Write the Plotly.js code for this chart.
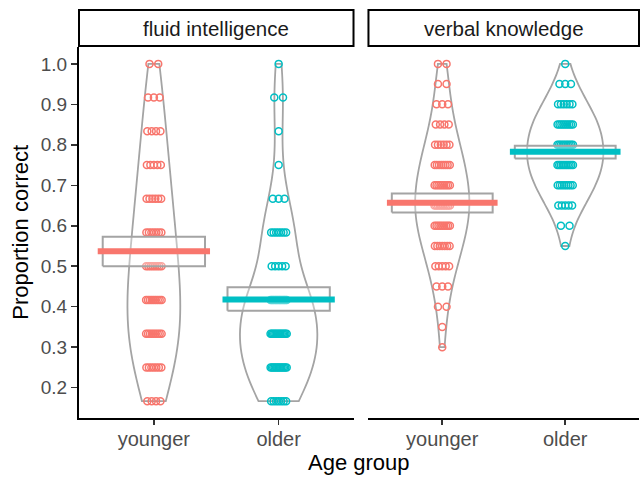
<!DOCTYPE html>
<html><head><meta charset="utf-8">
<script src="https://cdn.plot.ly/plotly-3.0.1.min.js"></script>
<style>html,body{margin:0;padding:0;background:#fff}#chart{width:640px;height:479px}</style>
</head><body><div id="chart"></div>
<script>
// ---- data ----
const panelNames = ['fluid intelligence', 'verbal knowledge'];
const groupNames = ['younger', 'older'];
const groupColors = ['#F8766D', '#00BFC4'];
const yTickVals = [0.2, 0.3, 0.4, 0.5, 0.6, 0.7, 0.8, 0.9, 1.0];

// fluid intelligence: proportion correct levels (k/12) and counts per level
const fluidLevels = [2/12, 3/12, 4/12, 5/12, 6/12, 7/12, 8/12, 9/12, 10/12, 11/12, 12/12];
const fluidYoungerCounts = [4, 7, 9, 9, 8, 7, 6, 5, 4, 3, 2];
const fluidOlderCounts   = [7, 13, 14, 13, 5, 7, 3, 1, 1, 2, 1];

// verbal knowledge: levels in steps of 0.05
const verbalLevels = [0.30, 0.35, 0.40, 0.45, 0.50, 0.55, 0.60, 0.65, 0.70, 0.75, 0.80, 0.85, 0.90, 0.95, 1.00];
const verbalYoungerCounts = [1, 1, 2, 3, 5, 7, 9, 10, 9, 8, 6, 4, 3, 2, 2];
const verbalOlderCounts   = [0, 0, 0, 0, 0, 1, 2, 5, 8, 10, 10, 9, 6, 3, 1];

// means and confidence boxes
const fluidMeans  = [0.537, 0.418];
const fluidCILow  = [0.500, 0.390];
const fluidCIHigh = [0.573, 0.448];
const verbalMeans  = [0.657, 0.783];
const verbalCILow  = [0.633, 0.766];
const verbalCIHigh = [0.680, 0.798];

// ---- helpers ----
function expand(levels, counts) {
  const out = [];
  levels.forEach((v, i) => { for (let k = 0; k < counts[i]; k++) out.push(v); });
  return out;
}
function quantile(sorted, p) {
  const h = (sorted.length - 1) * p, lo = Math.floor(h), hi = Math.ceil(h);
  return sorted[lo] + (sorted[hi] - sorted[lo]) * (h - lo);
}
function bwNrd0(vals) {
  const n = vals.length;
  const m = vals.reduce((a, b) => a + b, 0) / n;
  const sd = Math.sqrt(vals.reduce((a, b) => a + (b - m) * (b - m), 0) / (n - 1));
  const s = vals.slice().sort((a, b) => a - b);
  const iqr = quantile(s, 0.75) - quantile(s, 0.25);
  let lo = Math.min(sd, iqr / 1.34);
  if (!(lo > 0)) lo = sd || 1;
  return 0.9 * lo * Math.pow(n, -0.2);
}
// peak of the Gaussian kernel density inside the data range (for area scaling like ggplot)
function maxKDE(vals, bw) {
  const mn = Math.min(...vals), mx = Math.max(...vals);
  let best = 0;
  for (let i = 0; i <= 200; i++) {
    const y = mn + (mx - mn) * i / 200;
    let s = 0;
    for (const v of vals) { const z = (y - v) / bw; s += Math.exp(-0.5 * z * z); }
    best = Math.max(best, s / (vals.length * bw * Math.sqrt(2 * Math.PI)));
  }
  return best;
}

const JIT = 0.07, VW = 0.62, BOXHW = 0.41, BARHW = 0.45;
const traces = [];

function addPanel(xa, levels, countsList, means, lo, hi) {
  const info = countsList.map(counts => {
    const vals = expand(levels, counts);
    const bw = bwNrd0(vals);
    return { vals, bw, peak: maxKDE(vals, bw) };
  });
  const panelPeak = Math.max(...info.map(d => d.peak));
  countsList.forEach((counts, gi) => {
    const pos = gi + 1;
    const d = info[gi];
    traces.push({
      type: 'violin', x0: pos, y: d.vals, xaxis: xa, yaxis: 'y', orientation: 'v',
      scalegroup: xa + '_' + gi, scalemode: 'width', width: VW * d.peak / panelPeak, spanmode: 'hard',
      bandwidth: d.bw, points: false, fillcolor: 'rgba(0,0,0,0)',
      line: { color: '#a4a4a4', width: 1.8 }, box: { visible: false },
      meanline: { visible: false }, hoverinfo: 'skip', showlegend: false
    });
    // jittered points
    const px = [], py = [];
    levels.forEach((v, i) => {
      const n = counts[i];
      for (let k = 0; k < n; k++) {
        const off = n === 1 ? 0 : (-1 + 2 * (k + 0.5) / n) * JIT;
        px.push(pos + off); py.push(v);
      }
    });
    traces.push({
      type: 'scatter', mode: 'markers', x: px, y: py, xaxis: xa, yaxis: 'y',
      marker: { symbol: 'circle-open', size: 7, color: groupColors[gi], line: { width: 1.5 } },
      hoverinfo: 'skip', showlegend: false
    });
  });
  countsList.forEach((counts, gi) => {
    const pos = gi + 1;
    traces.push({
      type: 'scatter', mode: 'lines', xaxis: xa, yaxis: 'y',
      x: [pos - BOXHW, pos + BOXHW, pos + BOXHW, pos - BOXHW, pos - BOXHW],
      y: [lo[gi], lo[gi], hi[gi], hi[gi], lo[gi]],
      fill: 'toself', fillcolor: 'rgba(255,255,255,0.35)',
      line: { color: '#a4a4a4', width: 2 }, hoverinfo: 'skip', showlegend: false
    });
    traces.push({
      type: 'scatter', mode: 'lines', xaxis: xa, yaxis: 'y',
      x: [pos - BARHW, pos + BARHW], y: [means[gi], means[gi]],
      line: { color: groupColors[gi], width: 6 }, hoverinfo: 'skip', showlegend: false
    });
  });
}

addPanel('x', fluidLevels, [fluidYoungerCounts, fluidOlderCounts], fluidMeans, fluidCILow, fluidCIHigh);
addPanel('x2', verbalLevels, [verbalYoungerCounts, verbalOlderCounts], verbalMeans, verbalCILow, verbalCIHigh);

const D1 = 0.4902, D2 = 0.5169;
const tickFont = { family: 'Liberation Sans, Arial, sans-serif', size: 19, color: '#4d4d4d' };
const xaxisBase = {
  range: [0.4, 2.6], tickvals: [1, 2], ticktext: groupNames, showgrid: false, zeroline: false,
  showline: true, linecolor: '#000', linewidth: 2, ticks: 'outside', ticklen: 5,
  tickcolor: '#333', tickwidth: 1.5, tickfont: Object.assign({}, tickFont, { size: 20 }),
  ticklabelstandoff: -3, anchor: 'y', fixedrange: true
};
const stripY0 = 1.0027, stripY1 = 1.0997;
const layout = {
  width: 640, height: 479, margin: { l: 79, r: 1, t: 47, b: 61 },
  paper_bgcolor: '#fff', plot_bgcolor: '#fff', showlegend: false,
  font: { family: 'Liberation Sans, Arial, sans-serif' },
  xaxis: Object.assign({}, xaxisBase, { domain: [0, D1] }),
  xaxis2: Object.assign({}, xaxisBase, { domain: [D2, 1] }),
  yaxis: {
    range: [0.125, 1.0417], tickvals: yTickVals, tickformat: '.1f', showgrid: false, zeroline: false,
    showline: true, linecolor: '#000', linewidth: 2, ticks: 'outside', ticklen: 6,
    tickcolor: '#333', tickwidth: 1.5, tickfont: tickFont, anchor: 'x', fixedrange: true
  },
  shapes: [
    { type: 'rect', xref: 'paper', yref: 'paper', x0: 0, x1: D1, y0: stripY0, y1: stripY1,
      line: { color: '#000', width: 2 }, fillcolor: '#fff' },
    { type: 'rect', xref: 'paper', yref: 'paper', x0: D2, x1: 1, y0: stripY0, y1: stripY1,
      line: { color: '#000', width: 2 }, fillcolor: '#fff' }
  ],
  annotations: [
    { text: panelNames[0], xref: 'paper', yref: 'paper', x: D1 / 2, y: (stripY0 + stripY1) / 2,
      xanchor: 'center', yanchor: 'middle', showarrow: false,
      font: { size: 20.5, color: '#1a1a1a' } },
    { text: panelNames[1], xref: 'paper', yref: 'paper', x: (D2 + 1) / 2, y: (stripY0 + stripY1) / 2,
      xanchor: 'center', yanchor: 'middle', showarrow: false,
      font: { size: 20.5, color: '#1a1a1a' } },
    { text: 'Age group', xref: 'paper', yref: 'paper', x: 0.5, y: -0.121,
      xanchor: 'center', yanchor: 'middle', showarrow: false, font: { size: 22, color: '#000' } },
    { text: 'Proportion correct', xref: 'paper', yref: 'paper', x: -0.105, y: 0.5, textangle: -90,
      xanchor: 'center', yanchor: 'middle', showarrow: false, font: { size: 22, color: '#000' } }
  ]
};
Plotly.newPlot('chart', traces, layout, { displayModeBar: false, staticPlot: true });
</script></body></html>
